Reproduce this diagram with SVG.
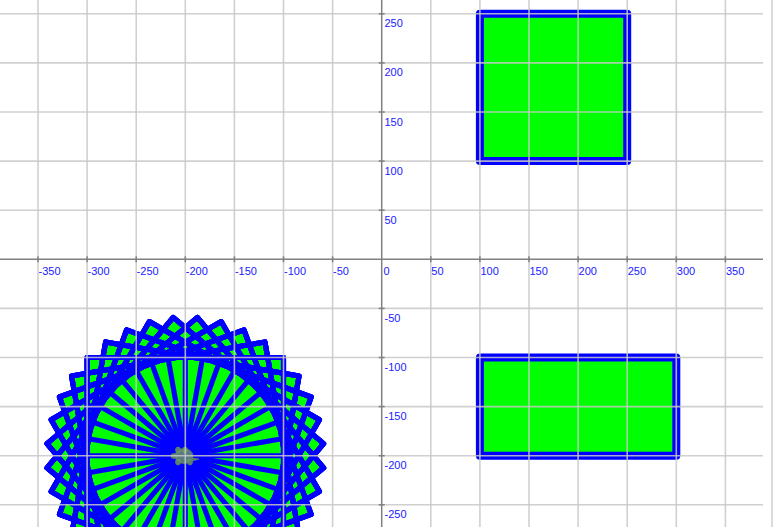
<svg xmlns="http://www.w3.org/2000/svg" xmlns:xlink="http://www.w3.org/1999/xlink" width="775" height="527" viewBox="0 0 775 527">
<style>
.grid line{stroke:#c8c8c8;stroke-opacity:0.85;stroke-width:1.6}
.axis line{stroke:#808080;stroke-width:1.5}
.lbl text{font-family:"Liberation Sans",Arial,sans-serif;font-size:11px;fill:#1a1aff}
.shape{fill:#00ff00;stroke:#0000ff;stroke-width:8.15;stroke-linejoin:round;stroke-linecap:round}
</style>
<defs>
<path id="sq" d="M0 0H100V100H-100V-100H100V0Z"/>
</defs>
<rect width="775" height="527" fill="#ffffff"/>
<g id="world" transform="translate(381.7,259.3) scale(0.982,-0.982)">
<g id="square-top"><rect class="shape" x="100" y="100" width="150" height="150"/></g>
<g id="rect-bottom"><rect class="shape" x="100" y="-200" width="200" height="100"/></g>
<g id="rosette" transform="translate(-200,-200)">
<g fill="#00ff00" stroke="none">
<use xlink:href="#sq"/><use xlink:href="#sq" transform="rotate(10)"/><use xlink:href="#sq" transform="rotate(20)"/><use xlink:href="#sq" transform="rotate(30)"/><use xlink:href="#sq" transform="rotate(40)"/><use xlink:href="#sq" transform="rotate(50)"/><use xlink:href="#sq" transform="rotate(60)"/><use xlink:href="#sq" transform="rotate(70)"/><use xlink:href="#sq" transform="rotate(80)"/>
</g>
<g fill="none" stroke="#0000ff" stroke-width="5.2" stroke-linejoin="round" stroke-linecap="round">
<use xlink:href="#sq"/><use xlink:href="#sq" transform="rotate(10)"/><use xlink:href="#sq" transform="rotate(20)"/><use xlink:href="#sq" transform="rotate(30)"/><use xlink:href="#sq" transform="rotate(40)"/><use xlink:href="#sq" transform="rotate(50)"/><use xlink:href="#sq" transform="rotate(60)"/><use xlink:href="#sq" transform="rotate(70)"/><use xlink:href="#sq" transform="rotate(80)"/>
<use xlink:href="#sq" transform="rotate(90)"/><use xlink:href="#sq" transform="rotate(100)"/><use xlink:href="#sq" transform="rotate(110)"/><use xlink:href="#sq" transform="rotate(120)"/><use xlink:href="#sq" transform="rotate(130)"/><use xlink:href="#sq" transform="rotate(140)"/><use xlink:href="#sq" transform="rotate(150)"/><use xlink:href="#sq" transform="rotate(160)"/><use xlink:href="#sq" transform="rotate(170)"/>
<use xlink:href="#sq" transform="rotate(180)"/><use xlink:href="#sq" transform="rotate(190)"/><use xlink:href="#sq" transform="rotate(200)"/><use xlink:href="#sq" transform="rotate(210)"/><use xlink:href="#sq" transform="rotate(220)"/><use xlink:href="#sq" transform="rotate(230)"/><use xlink:href="#sq" transform="rotate(240)"/><use xlink:href="#sq" transform="rotate(250)"/><use xlink:href="#sq" transform="rotate(260)"/>
<use xlink:href="#sq" transform="rotate(270)"/><use xlink:href="#sq" transform="rotate(280)"/><use xlink:href="#sq" transform="rotate(290)"/><use xlink:href="#sq" transform="rotate(300)"/><use xlink:href="#sq" transform="rotate(310)"/><use xlink:href="#sq" transform="rotate(320)"/><use xlink:href="#sq" transform="rotate(330)"/><use xlink:href="#sq" transform="rotate(340)"/><use xlink:href="#sq" transform="rotate(350)"/>
</g>
</g>
</g>
<g id="turtle" transform="translate(184,456)" fill="#6f9a63" fill-opacity="0.8" stroke="#5f8a55" stroke-opacity="0.7" stroke-width="1">
<ellipse cx="1" cy="-6" rx="2.5" ry="3"/>
<ellipse cx="-6" cy="-6" rx="2.5" ry="3"/>
<ellipse cx="-6" cy="6" rx="2.5" ry="3"/>
<ellipse cx="6" cy="6" rx="2.5" ry="3"/>
<ellipse cx="-10" cy="0" rx="3" ry="2.5"/>
<path d="M8 2 L15 3 L8 5Z"/>
<ellipse cx="0" cy="0" rx="9" ry="7.5"/>
</g>
<g class="grid">
<line x1="38" y1="0" x2="38" y2="527"/><line x1="87.1" y1="0" x2="87.1" y2="527"/><line x1="136.2" y1="0" x2="136.2" y2="527"/><line x1="185.3" y1="0" x2="185.3" y2="527"/><line x1="234.4" y1="0" x2="234.4" y2="527"/><line x1="283.5" y1="0" x2="283.5" y2="527"/><line x1="332.6" y1="0" x2="332.6" y2="527"/>
<line x1="430.8" y1="0" x2="430.8" y2="527"/><line x1="479.9" y1="0" x2="479.9" y2="527"/><line x1="529" y1="0" x2="529" y2="527"/><line x1="578.1" y1="0" x2="578.1" y2="527"/><line x1="627.2" y1="0" x2="627.2" y2="527"/><line x1="676.3" y1="0" x2="676.3" y2="527"/><line x1="725.4" y1="0" x2="725.4" y2="527"/><line x1="772" y1="0" x2="772" y2="527"/>
<line x1="0" y1="13.8" x2="763" y2="13.8"/><line x1="0" y1="62.9" x2="763" y2="62.9"/><line x1="0" y1="112" x2="763" y2="112"/><line x1="0" y1="161.1" x2="763" y2="161.1"/><line x1="0" y1="210.2" x2="763" y2="210.2"/>
<line x1="0" y1="308.4" x2="763" y2="308.4"/><line x1="0" y1="357.5" x2="763" y2="357.5"/><line x1="0" y1="406.6" x2="763" y2="406.6"/><line x1="0" y1="455.7" x2="763" y2="455.7"/><line x1="0" y1="504.8" x2="763" y2="504.8"/>
</g>
<g class="axis">
<line x1="0" y1="259.3" x2="763" y2="259.3"/>
<line x1="381.7" y1="0" x2="381.7" y2="527"/>
<line x1="38" y1="256.3" x2="38" y2="262.3"/><line x1="87.1" y1="256.3" x2="87.1" y2="262.3"/><line x1="136.2" y1="256.3" x2="136.2" y2="262.3"/><line x1="185.3" y1="256.3" x2="185.3" y2="262.3"/><line x1="234.4" y1="256.3" x2="234.4" y2="262.3"/><line x1="283.5" y1="256.3" x2="283.5" y2="262.3"/><line x1="332.6" y1="256.3" x2="332.6" y2="262.3"/>
<line x1="430.8" y1="256.3" x2="430.8" y2="262.3"/><line x1="479.9" y1="256.3" x2="479.9" y2="262.3"/><line x1="529" y1="256.3" x2="529" y2="262.3"/><line x1="578.1" y1="256.3" x2="578.1" y2="262.3"/><line x1="627.2" y1="256.3" x2="627.2" y2="262.3"/><line x1="676.3" y1="256.3" x2="676.3" y2="262.3"/><line x1="725.4" y1="256.3" x2="725.4" y2="262.3"/>
<line x1="378.7" y1="13.8" x2="384.7" y2="13.8"/><line x1="378.7" y1="62.9" x2="384.7" y2="62.9"/><line x1="378.7" y1="112" x2="384.7" y2="112"/><line x1="378.7" y1="161.1" x2="384.7" y2="161.1"/><line x1="378.7" y1="210.2" x2="384.7" y2="210.2"/>
<line x1="378.7" y1="308.4" x2="384.7" y2="308.4"/><line x1="378.7" y1="357.5" x2="384.7" y2="357.5"/><line x1="378.7" y1="406.6" x2="384.7" y2="406.6"/><line x1="378.7" y1="455.7" x2="384.7" y2="455.7"/><line x1="378.7" y1="504.8" x2="384.7" y2="504.8"/>
</g>
<g class="lbl">
<text x="38.5" y="275">-350</text><text x="87.6" y="275">-300</text><text x="136.7" y="275">-250</text><text x="185.8" y="275">-200</text><text x="234.9" y="275">-150</text><text x="284" y="275">-100</text><text x="333.1" y="275">-50</text>
<text x="383.5" y="275">0</text><text x="431.3" y="275">50</text><text x="480.4" y="275">100</text><text x="529.5" y="275">150</text><text x="578.6" y="275">200</text><text x="627.7" y="275">250</text><text x="676.8" y="275">300</text><text x="725.9" y="275">350</text>
<text x="384.5" y="27.3">250</text><text x="384.5" y="76.4">200</text><text x="384.5" y="125.5">150</text><text x="384.5" y="174.6">100</text><text x="384.5" y="223.7">50</text>
<text x="384.5" y="321.9">-50</text><text x="384.5" y="371">-100</text><text x="384.5" y="420.1">-150</text><text x="384.5" y="469.2">-200</text><text x="384.5" y="518.3">-250</text>
</g>
</svg>
